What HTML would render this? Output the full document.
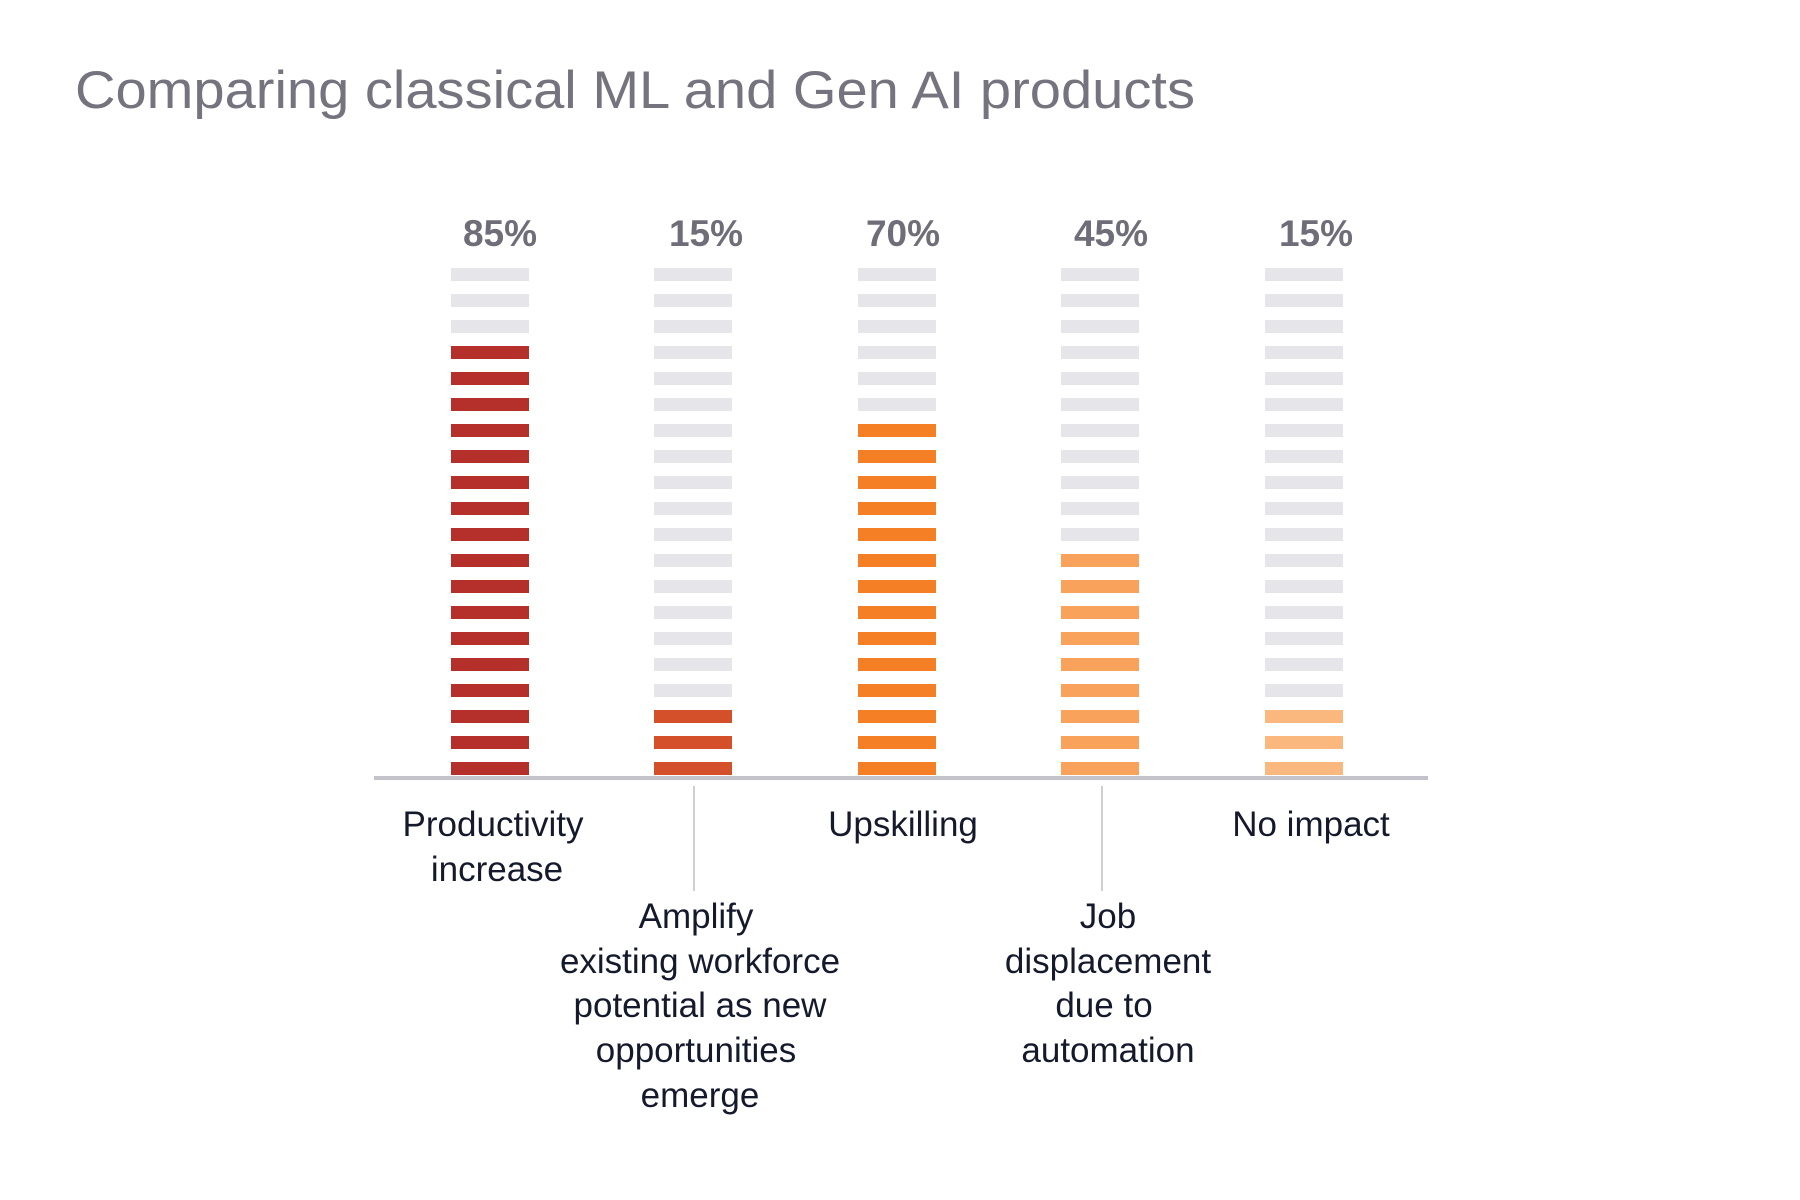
<!DOCTYPE html>
<html><head><meta charset="utf-8"><style>html,body{margin:0;padding:0;background:#fff}svg{display:block}</style></head>
<body>
<svg width="1800" height="1200" viewBox="0 0 1800 1200" xmlns="http://www.w3.org/2000/svg">
<defs>
<pattern id="pg" patternUnits="userSpaceOnUse" x="0" y="268" width="10" height="26"><rect width="10" height="13" fill="#e6e6ea"/></pattern>
<pattern id="p1" patternUnits="userSpaceOnUse" x="0" y="268" width="10" height="26"><rect width="10" height="13" fill="#b5302a"/></pattern>
<pattern id="p2" patternUnits="userSpaceOnUse" x="0" y="268" width="10" height="26"><rect width="10" height="13" fill="#d4502a"/></pattern>
<pattern id="p3" patternUnits="userSpaceOnUse" x="0" y="268" width="10" height="26"><rect width="10" height="13" fill="#f47f24"/></pattern>
<pattern id="p4" patternUnits="userSpaceOnUse" x="0" y="268" width="10" height="26"><rect width="10" height="13" fill="#f8a25c"/></pattern>
<pattern id="p5" patternUnits="userSpaceOnUse" x="0" y="268" width="10" height="26"><rect width="10" height="13" fill="#fbb87e"/></pattern>
</defs>
<rect width="1800" height="1200" fill="#fff"/>
<text x="75" y="108" font-family="Liberation Sans, sans-serif" font-size="53" fill="#74737e" textLength="1120" lengthAdjust="spacingAndGlyphs">Comparing classical ML and Gen AI products</text>
<rect x="451" y="268" width="78" height="507" fill="url(#pg)"/>
<rect x="654" y="268" width="78" height="507" fill="url(#pg)"/>
<rect x="858" y="268" width="78" height="507" fill="url(#pg)"/>
<rect x="1061" y="268" width="78" height="507" fill="url(#pg)"/>
<rect x="1265" y="268" width="78" height="507" fill="url(#pg)"/>
<rect x="451" y="346" width="78" height="429" fill="url(#p1)"/>
<rect x="654" y="710" width="78" height="65" fill="url(#p2)"/>
<rect x="858" y="424" width="78" height="351" fill="url(#p3)"/>
<rect x="1061" y="554" width="78" height="221" fill="url(#p4)"/>
<rect x="1265" y="710" width="78" height="65" fill="url(#p5)"/>
<line x1="374" y1="778" x2="1428" y2="778" stroke="#c4c3cb" stroke-width="4"/>
<line x1="694" y1="786" x2="694" y2="891" stroke="#cfcfd4" stroke-width="2"/>
<line x1="1102" y1="786" x2="1102" y2="891" stroke="#cfcfd4" stroke-width="2"/>
<g font-family="Liberation Sans, sans-serif" font-size="37" font-weight="bold" fill="#6e6d78" text-anchor="middle">
<text x="500" y="246">85%</text><text x="706" y="246">15%</text><text x="903" y="246">70%</text><text x="1111" y="246">45%</text><text x="1316" y="246">15%</text>
</g>
<g font-family="Liberation Sans, sans-serif" font-size="35" fill="#141a2c" text-anchor="middle">
<text x="493" y="836">Productivity</text><text x="497" y="881">increase</text>
<text x="903" y="836">Upskilling</text>
<text x="1311" y="836">No impact</text>
<text x="696" y="928">Amplify</text><text x="700" y="973">existing workforce</text><text x="700" y="1017">potential as new</text><text x="696" y="1062">opportunities</text><text x="700" y="1107">emerge</text>
<text x="1108" y="928">Job</text><text x="1108" y="973">displacement</text><text x="1104" y="1017">due to</text><text x="1108" y="1062">automation</text>
</g>
</svg>
</body></html>
